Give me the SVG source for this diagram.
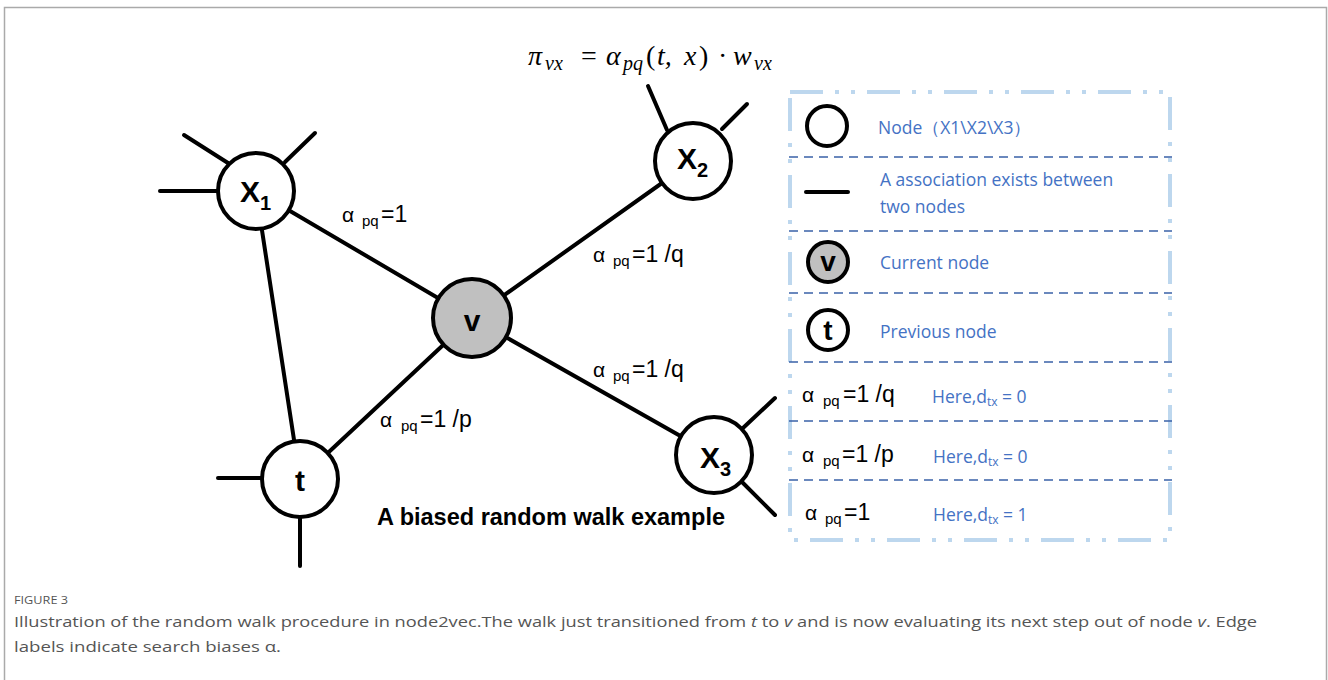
<svg xmlns="http://www.w3.org/2000/svg" width="1328" height="680" viewBox="0 0 1328 680">
<style>
.edge{stroke:#000;stroke-width:4;stroke-linecap:round;fill:none}
.node{fill:#fff;stroke:#000;stroke-width:4}
.cur{fill:#c0c0c0;stroke:#000;stroke-width:4}
.nl{font-family:"Liberation Sans",Arial,sans-serif;font-weight:bold;font-size:30px;fill:#000}
.ns{font-size:20px}
.el{font-family:"Liberation Sans",Arial,sans-serif;font-size:23px;fill:#000}
.al{font-size:21px}
.pq{font-size:15px}
.lg{font-family:"Open Sans","Liberation Sans",sans-serif;font-size:17.5px;fill:#4472c4}
.lgs{font-size:12px}
.div{stroke:#3a62a8;stroke-width:1.5;stroke-dasharray:9 6}
.fm{font-family:"Liberation Serif","Times New Roman",serif;font-style:italic;font-size:28px;fill:#000}
.fms{font-size:20px}
.up{font-style:normal}
.cap{font-family:"Open Sans","Liberation Sans",sans-serif;fill:#555}
</style>
<rect x="4.5" y="7.5" width="1322" height="690" fill="#fff" stroke="#aaa" stroke-width="1.5"/>

<text class="fm" x="528" y="65">π<tspan class="fms" x="545" y="70">vx</tspan><tspan class="up" x="581" y="65">=</tspan><tspan x="606" y="65">α</tspan><tspan class="fms" x="623" y="70">pq</tspan><tspan class="up" x="646" y="65">(</tspan><tspan x="657" y="65">t,</tspan><tspan x="684" y="65">x</tspan><tspan class="up" x="699" y="65">)</tspan><tspan class="up" x="718" y="65">·</tspan><tspan x="733" y="65">w</tspan><tspan class="fms" x="754" y="70">vx</tspan></text>

<g id="connectors">
<line class="edge" x1="256" y1="191" x2="472" y2="318"/>
<line class="edge" x1="256" y1="191" x2="300" y2="479"/>
<line class="edge" x1="472" y1="318" x2="693" y2="161"/>
<line class="edge" x1="472" y1="318" x2="714" y2="455"/>
<line class="edge" x1="472" y1="318" x2="300" y2="479"/>
<line class="edge" x1="160" y1="191" x2="218" y2="191"/>
<line class="edge" x1="184" y1="135" x2="228" y2="163"/>
<line class="edge" x1="315" y1="133" x2="285" y2="162"/>
<line class="edge" x1="648" y1="86" x2="667" y2="130"/>
<line class="edge" x1="747" y1="104" x2="722" y2="129"/>
<line class="edge" x1="775" y1="398" x2="743" y2="428"/>
<line class="edge" x1="775" y1="515" x2="742" y2="482"/>
<line class="edge" x1="218" y1="478" x2="262" y2="478"/>
<line class="edge" x1="300" y1="518" x2="300" y2="566"/>
</g>

<g id="edge-labels">
<text class="el" x="342" y="222"><tspan class="al">α</tspan><tspan class="pq" x="362" dy="4">pq</tspan><tspan x="381" dy="-4">=1</tspan></text>
<text class="el" x="593" y="262"><tspan class="al">α</tspan><tspan class="pq" x="613" dy="4">pq</tspan><tspan x="632" dy="-4">=1 /q</tspan></text>
<text class="el" x="593" y="377"><tspan class="al">α</tspan><tspan class="pq" x="613" dy="4">pq</tspan><tspan x="632" dy="-4">=1 /q</tspan></text>
<text class="el" x="380" y="427"><tspan class="al">α</tspan><tspan class="pq" x="401" dy="4">pq</tspan><tspan x="420" dy="-4">=1 /p</tspan></text>
</g>

<g id="node-x1"><circle class="node" cx="256" cy="191" r="38"/><text class="nl" x="240" y="202">X<tspan class="ns" dy="8">1</tspan></text></g>
<g id="node-x2"><circle class="node" cx="693" cy="161" r="38"/><text class="nl" x="677" y="169">X<tspan class="ns" dy="8">2</tspan></text></g>
<g id="node-x3"><circle class="node" cx="714" cy="455" r="38"/><text class="nl" x="700" y="468">X<tspan class="ns" dy="8">3</tspan></text></g>
<g id="node-v"><circle class="cur" cx="472" cy="318" r="39"/><text class="nl" x="472" y="331" text-anchor="middle" font-size="33">v</text></g>
<g id="node-t"><circle class="node" cx="300" cy="479" r="38"/><text class="nl" x="300" y="491" text-anchor="middle" font-size="33">t</text></g>

<text id="title" x="377" y="525" font-family="'Liberation Sans',Arial,sans-serif" font-weight="bold" font-size="23" textLength="348" lengthAdjust="spacingAndGlyphs">A biased random walk example</text>

<g id="legend">
<rect x="790" y="92" width="380" height="448" fill="none" stroke="#bdd7ee" stroke-width="4" stroke-dasharray="33 12 4 12 4 12"/>
<line class="div" x1="789" y1="157" x2="1172" y2="157"/>
<line class="div" x1="789" y1="231" x2="1172" y2="231"/>
<line class="div" x1="789" y1="293" x2="1172" y2="293"/>
<line class="div" x1="789" y1="362" x2="1172" y2="362"/>
<line class="div" x1="789" y1="421" x2="1172" y2="421"/>
<line class="div" x1="789" y1="480" x2="1172" y2="480"/>

<circle cx="827" cy="126" r="20" fill="#fff" stroke="#000" stroke-width="4"/>
<text class="lg" x="878" y="134">Node（X1\X2\X3）</text>

<line x1="806" y1="192" x2="848" y2="192" stroke="#000" stroke-width="4" stroke-linecap="round"/>
<text class="lg" x="880" y="186">A association exists between</text>
<text class="lg" x="880" y="213">two nodes</text>

<circle cx="828" cy="262" r="20" fill="#c0c0c0" stroke="#000" stroke-width="4"/>
<text x="828" y="271" text-anchor="middle" font-family="'Liberation Sans',Arial,sans-serif" font-weight="bold" font-size="28">v</text>
<text class="lg" x="880" y="269">Current node</text>

<circle cx="828" cy="330" r="20" fill="#fff" stroke="#000" stroke-width="4"/>
<text x="828" y="340" text-anchor="middle" font-family="'Liberation Sans',Arial,sans-serif" font-weight="bold" font-size="28">t</text>
<text class="lg" x="880" y="338">Previous node</text>

<text class="el" x="802" y="402"><tspan class="al">α</tspan><tspan class="pq" x="823" dy="4">pq</tspan><tspan x="843" dy="-4">=1 /q</tspan></text>
<text class="lg" x="932" y="403">Here,d<tspan class="lgs" dy="3">tx</tspan><tspan dy="-3"> = 0</tspan></text>

<text class="el" x="802" y="462"><tspan class="al">α</tspan><tspan class="pq" x="823" dy="4">pq</tspan><tspan x="842" dy="-4">=1 /p</tspan></text>
<text class="lg" x="933" y="463">Here,d<tspan class="lgs" dy="3">tx</tspan><tspan dy="-3"> = 0</tspan></text>

<text class="el" x="805" y="520"><tspan class="al">α</tspan><tspan class="pq" x="825" dy="4">pq</tspan><tspan x="844" dy="-4">=1</tspan></text>
<text class="lg" x="933" y="521">Here,d<tspan class="lgs" dy="3">tx</tspan><tspan dy="-3"> = 1</tspan></text>
</g>

<g id="caption">
<text class="cap" x="14" y="604" font-size="11" textLength="54" lengthAdjust="spacingAndGlyphs">FIGURE 3</text>
<text class="cap" x="14" y="627" font-size="15" textLength="1243" lengthAdjust="spacingAndGlyphs">Illustration of the random walk procedure in node2vec.The walk just transitioned from <tspan font-style="italic">t</tspan> to <tspan font-style="italic">v</tspan> and is now evaluating its next step out of node <tspan font-style="italic">v</tspan>. Edge</text>
<text class="cap" x="14" y="652" font-size="15" textLength="267" lengthAdjust="spacingAndGlyphs">labels indicate search biases α.</text>
</g>
</svg>
